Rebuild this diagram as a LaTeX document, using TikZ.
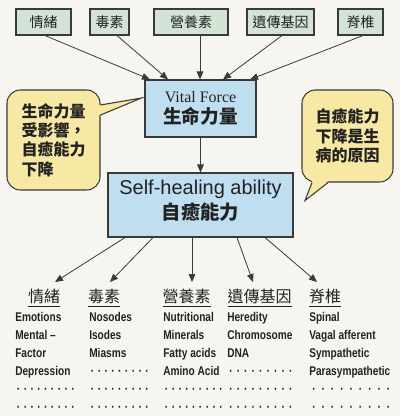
\documentclass[tikz,border=0pt]{standalone}
\usepackage{fontspec}
\setmainfont{Liberation Serif}
\newfontfamily\cjk{Noto Sans CJK TC}
\newfontfamily\helv{Liberation Sans}
\newfontfamily\narrowsans[FakeStretch=0.8]{Liberation Sans}
\usetikzlibrary{calc}
\usetikzlibrary{arrows.meta}
\definecolor{paper}{HTML}{F7F5EF}
\definecolor{edge}{HTML}{3A3A3A}
\definecolor{ink}{HTML}{222222}
\definecolor{factorfill}{HTML}{D3E4D6}
\definecolor{forcefill}{HTML}{BFDFF1}
\definecolor{notefill}{HTML}{F7E9A3}
\newcommand{\dotrow}[1]{\foreach \k in {1,...,9}{\makebox[#1]{·}}}
\tikzset{
    factor/.style = {rectangle,draw=edge,fill=factorfill,line width=0.8pt,inner sep=0pt,
        minimum height=19.5pt,text=ink,font=\cjk\fontsize{10.5}{12}\selectfont},
    force/.style = {rectangle,draw=edge,fill=forcefill,line width=0.8pt,inner sep=0pt,
        align=center,text=ink},
    note/.style = {rectangle,rounded corners=10pt,draw=edge,fill=notefill,line width=0.8pt,
        inner sep=0pt,align=left,text=ink,font=\cjk\bfseries\fontsize{12}{14.5}\selectfont},
    noteline/.style = {draw=edge,line width=0.8pt,line join=miter},
    arr/.style = {-{Triangle[length=6pt,width=5pt]},draw=edge,line width=0.6pt},
    group/.style = {anchor=north,inner sep=0pt,text=ink,font=\cjk\fontsize{12}{14}\selectfont},
    items/.style = {anchor=north west,align=left,inner sep=0pt,text=ink,
        font=\narrowsans\bfseries\fontsize{9.5}{13.5}\selectfont}}

\begin{document}
\begin{tikzpicture}[x=0.75pt,y=-0.75pt]
    \fill[paper] (0,0) rectangle (400,416);
    \useasboundingbox (0,0) rectangle (400,416);
    % factors along the top
    \node[factor,minimum width=41.25pt] (f1) at (43.5,22) {情緒};
    \node[factor,minimum width=29.25pt] (f2) at (109.5,22) {毒素};
    \node[factor,minimum width=55.5pt] (f3) at (191,22) {營養素};
    \node[factor,minimum width=50.25pt] (f4) at (280.5,22) {遺傳基因};
    \node[factor,minimum width=33.75pt] (f5) at (360.5,22) {脊椎};
    % the two central boxes
    \node[force,minimum width=83.25pt,minimum height=42.75pt,font=\fontsize{12}{16}\selectfont]
        (vital) at (200.5,108.5) {Vital Force\\ \cjk\bfseries\fontsize{14}{17}\selectfont 生命力量\rule[-2pt]{0pt}{2pt}};
    \node[force,minimum width=138.75pt,minimum height=48pt,font=\helv\fontsize{15}{19}\selectfont]
        (heal) at (200.5,205) {Self-healing ability\\ \cjk\bfseries\fontsize{14.5}{18}\selectfont 自癒能力\rule[-8pt]{0pt}{8pt}};
    \draw[arr] ($(f1.south)+(1.5,0)$) -- ($(vital.north)+(-50.5,0)$);
    \draw[arr] ($(f2.south)+(7.5,0)$) -- ($(vital.north)+(-32.5,0)$);
    \draw[arr] ($(f3.south)+(9,0)$) -- ($(vital.north)+(-0.5,0)$);
    \draw[arr] ($(f4.south)+(1.5,0)$) -- ($(vital.north)+(22.5,0)$);
    \draw[arr] ($(f5.south)+(2.5,0)$) -- ($(vital.north)+(49.5,0)$);
    \draw[arr] (vital) -- (heal);
    % speech bubbles
    \node[note,minimum width=69.75pt,minimum height=75pt] (lnote) at (53.5,140)
        {生命力量\\受影響，\\自癒能力\\下降};
    \fill[notefill] ($(lnote.east)+(-1.5,-35)$) -- ($(vital.west)+(-3,-10.5)$) -- ($(lnote.east)+(-1.5,-25)$) -- cycle;
    \draw[noteline] ($(lnote.east)+(0,-35)$) -- ($(vital.west)+(-3,-10.5)$) -- ($(lnote.east)+(0,-25)$);
    \node[note,minimum width=68.25pt,minimum height=69pt] (rnote) at (347.5,136)
        {自癒能力\\下降是生\\病的原因};
    \fill[notefill] ($(rnote.south)+(-35.5,-1.5)$) -- ($(rnote.south)+(-42.5,18)$) -- ($(rnote.south)+(-19.5,-1.5)$) -- cycle;
    \draw[noteline] ($(rnote.south)+(-35.5,0)$) -- ($(rnote.south)+(-42.5,18)$) -- ($(rnote.south)+(-19.5,0)$);
    % groups and their items
    \node[group] (g1) at (44,289) {\underline{情緒}};
    \node[group] (g2) at (104,289) {\underline{毒素}};
    \node[group] (g3) at (186.5,289) {\underline{營養素}};
    \node[group] (g4) at (259.5,289) {\underline{遺傳基因}};
    \node[group] (g5) at (325,289) {\underline{脊椎}};
    \draw[arr] ($(heal.south)+(-75.5,0)$) -- ($(g1.north)+(11,-7)$);
    \draw[arr] ($(heal.south)+(-47.5,0)$) -- ($(g2.north)+(6,-7)$);
    \draw[arr] ($(heal.south)+(-8.5,0)$) -- ($(g3.north)+(5.5,-7)$);
    \draw[arr] ($(heal.south)+(36.5,0)$) -- ($(g4.north)+(-6.5,-7)$);
    \draw[arr] ($(heal.south)+(64.5,0)$) -- ($(g5.north)+(-8,-7)$);
    \node[items] (i1) at (15,312) {Emotions\\Mental –\\Factor\\Depression\\\dotrow{5.1pt}\\\dotrow{5.1pt}};
    \node[items] (i2) at (89,312) {Nosodes\\Isodes\\Miasms\\\dotrow{5.1pt}\\\dotrow{5.1pt}\\\dotrow{5.1pt}};
    \node[items] (i3) at (163,312) {Nutritional\\Minerals\\Fatty acids\\Amino Acid\\\dotrow{5.1pt}\\\dotrow{5.1pt}};
    \node[items] (i4) at (227,312) {Heredity\\Chromosome\\DNA\\\dotrow{5.6pt}\\\dotrow{5.6pt}\\\dotrow{5.6pt}};
    \node[items] (i5) at (309,312) {Spinal\\Vagal afferent\\Sympathetic\\Parasympathetic\\\dotrow{7pt}\\\dotrow{7pt}};
\end{tikzpicture}
\end{document}
